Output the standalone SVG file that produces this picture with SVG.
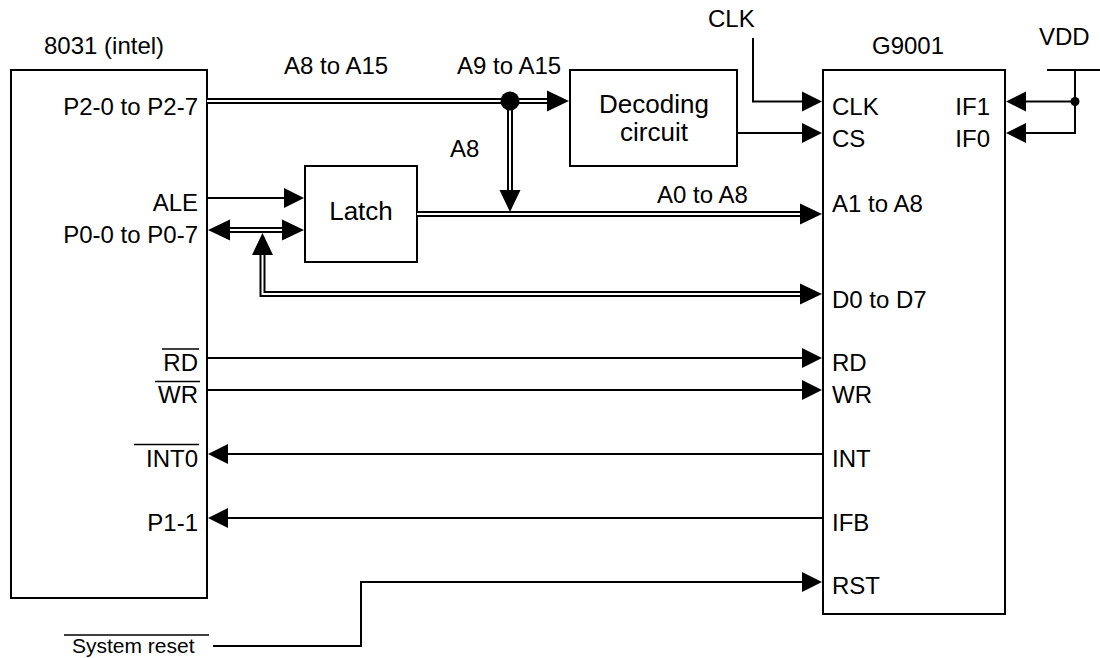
<svg xmlns="http://www.w3.org/2000/svg" xmlns:xlink="http://www.w3.org/1999/xlink" width="1100" height="658" viewBox="0 0 1100 658">
<style>
.box{fill:#fff;stroke:#000;stroke-width:2}
.w{fill:none;stroke:#000;stroke-width:2}
.ov{fill:none;stroke:#000;stroke-width:1.6}
.bo{fill:none;stroke:#000;stroke-width:6;stroke-linejoin:miter;stroke-linecap:butt}
.bi{fill:none;stroke:#fff;stroke-width:2;stroke-linejoin:miter;stroke-linecap:butt}
text{font-family:"Liberation Sans",Arial,sans-serif;font-size:24px;fill:#000}
.e{text-anchor:end}
.m{text-anchor:middle}
.s{font-size:21px}
.t{font-size:26px}
</style>
<defs>
<path id="ah" d="M0,0 L-20,-10 L-20,10 Z" fill="#000"/>
<path id="ahb" d="M0,0 L-22,-10.5 L-22,10.5 Z" fill="#000"/>
</defs>
<rect width="1100" height="658" fill="#fff"/>

<g id="cpu">
<rect class="box" x="11" y="70" width="196" height="528"/>
<text x="44" y="54">8031 (intel)</text>
<text class="e" x="198" y="115">P2-0 to P2-7</text>
<text class="e" x="198" y="211">ALE</text>
<text class="e" x="198" y="243">P0-0 to P0-7</text>
<text class="e" x="198" y="371">RD</text>
<line class="ov" x1="162" y1="349" x2="199" y2="349"/>
<text class="e" x="198" y="403">WR</text>
<line class="ov" x1="155" y1="381.5" x2="200" y2="381.5"/>
<text class="e" x="198" y="467">INT0</text>
<line class="ov" x1="134" y1="444.5" x2="199" y2="444.5"/>
<text class="e" x="198" y="531">P1-1</text>
</g>

<g id="latch">
<rect class="box" x="305" y="166" width="112" height="96"/>
<text class="m t" x="361" y="220">Latch</text>
</g>

<g id="decoder">
<rect class="box" x="570" y="70" width="167" height="96"/>
<text class="m t" x="654" y="113">Decoding</text>
<text class="m t" x="654" y="141">circuit</text>
</g>

<g id="g9001">
<rect class="box" x="823" y="70" width="182" height="544"/>
<text x="872" y="54">G9001</text>
<text x="832" y="115">CLK</text>
<text x="832" y="147">CS</text>
<text class="e" x="990" y="115">IF1</text>
<text class="e" x="990" y="147">IF0</text>
<text x="832" y="212">A1 to A8</text>
<text x="832" y="308">D0 to D7</text>
<text x="832" y="371">RD</text>
<text x="832" y="403">WR</text>
<text x="832" y="467">INT</text>
<text x="832" y="531">IFB</text>
<text x="832" y="594">RST</text>
</g>

<g id="clk-source">
<text x="708" y="27">CLK</text>
</g>

<g id="vdd">
<text x="1039" y="45">VDD</text>
</g>

<g id="system-reset">
<text class="s" x="72" y="653">System reset</text>
<line class="ov" x1="64" y1="635" x2="209" y2="635"/>
</g>

<g id="connectors">
<!-- P2 bus A8 to A15 -->
<path class="bo" d="M208,101 H549"/>
<path class="bi" d="M207,101 H549"/>
<use xlink:href="#ahb" href="#ahb" transform="translate(569,101)"/>
<text x="284" y="74">A8 to A15</text>
<text x="457" y="74">A9 to A15</text>
<!-- A8 down -->
<path class="bo" d="M510,101 V192"/>
<path class="bi" d="M510,108 V192"/>
<use xlink:href="#ahb" href="#ahb" transform="translate(510,212) rotate(90)"/>
<circle cx="510" cy="101" r="9.5" fill="#000"/>
<text x="450" y="157">A8</text>
<!-- A0 to A8 bus -->
<path class="bo" d="M418,214 H802"/>
<path class="bi" d="M417,214 H802"/>
<use xlink:href="#ahb" href="#ahb" transform="translate(822,214)"/>
<text x="657" y="203">A0 to A8</text>
<!-- P0 bidirectional bus -->
<path class="bo" d="M228,230 H284"/>
<path class="bi" d="M228,230 H284"/>
<use xlink:href="#ahb" href="#ahb" transform="translate(208,230) rotate(180)"/>
<use xlink:href="#ahb" href="#ahb" transform="translate(304,230)"/>
<!-- D bus -->
<path class="bo" d="M262.5,253 V294 H802"/>
<path class="bi" d="M262.5,253 V294 H802"/>
<use xlink:href="#ahb" href="#ahb" transform="translate(262.5,233) rotate(-90)"/>
<use xlink:href="#ahb" href="#ahb" transform="translate(822,294)"/>
<!-- ALE -->
<path class="w" d="M207,198 H286"/>
<use xlink:href="#ah" href="#ah" transform="translate(304,198)"/>
<!-- CLK -->
<path class="w" d="M753,38 V101.5 H804"/>
<use xlink:href="#ah" href="#ah" transform="translate(822,101.5)"/>
<!-- CS -->
<path class="w" d="M737,133 H804"/>
<use xlink:href="#ah" href="#ah" transform="translate(822,133)"/>
<!-- VDD -->
<path class="w" d="M1047,70 H1100"/>
<path class="w" d="M1075,70 V133 H1024"/>
<path class="w" d="M1075,101.5 H1024"/>
<circle cx="1075" cy="101.5" r="4.5" fill="#000"/>
<use xlink:href="#ah" href="#ah" transform="translate(1006,101.5) rotate(180)"/>
<use xlink:href="#ah" href="#ah" transform="translate(1006,133) rotate(180)"/>
<!-- RD, WR -->
<path class="w" d="M207,358 H804"/>
<use xlink:href="#ah" href="#ah" transform="translate(822,358)"/>
<path class="w" d="M207,390 H804"/>
<use xlink:href="#ah" href="#ah" transform="translate(822,390)"/>
<!-- INT, IFB -->
<path class="w" d="M823,454 H226"/>
<use xlink:href="#ah" href="#ah" transform="translate(208,454) rotate(180)"/>
<path class="w" d="M823,518 H226"/>
<use xlink:href="#ah" href="#ah" transform="translate(208,518) rotate(180)"/>
<!-- RST -->
<path class="w" d="M213,646 H361 V582 H804"/>
<use xlink:href="#ah" href="#ah" transform="translate(822,582)"/>
</g>
</svg>
